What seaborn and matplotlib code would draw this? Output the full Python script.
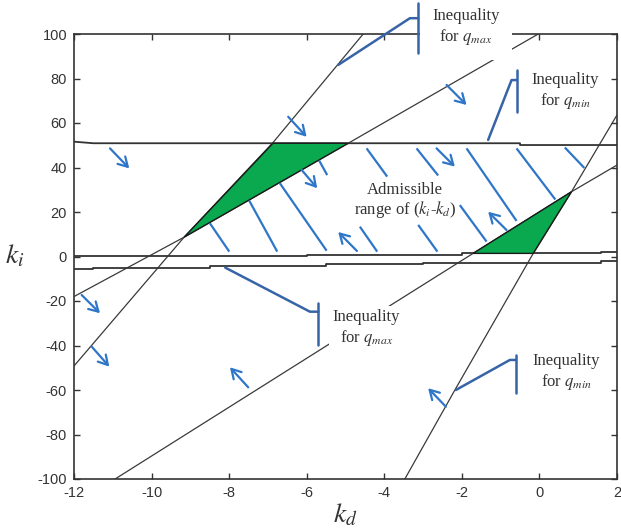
import numpy as np
import matplotlib
matplotlib.use("Agg")
import matplotlib.pyplot as plt
import seaborn as sns

# ---- boundary curves in the (k_d, k_i) plane ----
kd_qmax_steep = [-12.0, -9.16, -6.87, -4.544]
ki_qmax_steep = [-49.2, 8.7, 51.2, 100.0]

kd_upper_slant = [-12.0, -9.16, -4.93, -0.03]
ki_upper_slant = [-18.0, 8.7, 50.9, 100.0]

kd_lower_slant = [-10.94, -5.66, -3.9, -1.71, 0.826, 2.0]
ki_lower_slant = [-100.0, -42.0, -22.6, 1.4, 29.1, 41.1]

kd_qmin_steep = [-3.47, -2.18, -0.16, 0.826, 2.0]
ki_qmin_steep = [-100.0, -60.0, 1.4, 29.1, 63.6]

kd_qmin_level = [-12.0, -11.5, -0.5, -0.5, 2.0]
ki_qmin_level = [51.6, 50.9, 50.9, 50.1, 50.1]

kd_zero_level = [-12.0, -6.0, -6.0, -2.0, -2.0, 1.6, 1.6, 2.0]
ki_zero_level = [0.2, 0.2, 0.8, 0.8, 1.4, 1.4, 2.2, 2.2]

kd_qmax_level = [-12.0, -11.5, -11.5, -8.5, -8.5, -5.5, -5.5, -3.0, -3.0, 1.6, 1.6, 2.0]
ki_qmax_level = [-5.6, -5.6, -5.2, -5.2, -4.1, -4.1, -3.3, -3.3, -2.8, -2.8, -1.9, -1.9]

# ---- filled corner regions ----
kd_left_wedge = [-9.16, -6.87, -4.93]
ki_left_wedge = [8.7, 50.9, 50.9]
kd_right_wedge = [-1.71, -0.16, 0.826]
ki_right_wedge = [1.4, 1.4, 29.1]

# ---- hatch strokes marking the admissible region ----
hatch_kd_from = [-8.495, -7.482, -6.691, -5.678, -4.456, -4.629, -3.168, -3.126, -1.879, -0.590, -2.052, 0.655]
hatch_ki_from = [14.9, 25.1, 32.9, 43.1, 48.6, 13.4, 48.6, 14.2, 48.6, 48.6, 23.1, 49.0]
hatch_kd_to = [-7.997, -6.760, -5.487, -5.472, -3.925, -4.183, -2.611, -2.631, -0.590, 0.410, -1.363, 1.157]
hatch_ki_to = [2.2, 2.2, 2.6, 36.6, 35.9, 2.2, 36.4, 2.2, 16.0, 25.6, 6.7, 39.8]

# ---- direction arrows (tail -> head) ----
arrow_kd_tail = [-11.072, -6.477, -6.131, -2.394, -2.652, -0.848, -4.706, -11.802, -11.544, -7.508, -2.412]
arrow_ki_tail = [48.6, 62.8, 38.9, 77.1, 48.6, 11.9, 2.5, -17.3, -40.5, -58.8, -67.5]
arrow_kd_head = [-10.575, -6.003, -5.729, -1.879, -2.180, -1.322, -5.188, -11.330, -11.090, -7.979, -2.869]
arrow_ki_head = [39.6, 53.8, 30.7, 68.1, 40.4, 20.1, 11.0, -25.5, -49.5, -49.8, -59.2]

x_ticks = [-12, -10, -8, -6, -4, -2, 0, 2]
y_ticks = [-100, -80, -60, -40, -20, 0, 20, 40, 60, 80, 100]

sns.set_theme(style="ticks")
plt.rcParams["font.family"] = ["Liberation Sans", "DejaVu Sans"]
plt.rcParams["mathtext.fontset"] = "stix"
plt.rcParams["axes.unicode_minus"] = False

W, H = 621, 530
fig = plt.figure(figsize=(W / 100, H / 100), dpi=100)
fig.patch.set_facecolor("white")
ax = fig.add_axes([74 / W, 1 - 479 / H, 543 / W, 445 / H])
ax.set_facecolor("white")

curve_kw = dict(color="#3a3a3a", linewidth=0.9, sort=False, estimator=None, ax=ax, legend=False)
sns.lineplot(x=kd_qmax_steep, y=ki_qmax_steep, **curve_kw)
sns.lineplot(x=kd_upper_slant, y=ki_upper_slant, **curve_kw)
sns.lineplot(x=kd_lower_slant, y=ki_lower_slant, **curve_kw)
sns.lineplot(x=kd_qmin_steep, y=ki_qmin_steep, **curve_kw)

level_kw = dict(color="#333333", linewidth=1.3, sort=False, estimator=None, ax=ax, legend=False)
sns.lineplot(x=kd_qmin_level, y=ki_qmin_level, **level_kw)
sns.lineplot(x=kd_zero_level, y=ki_zero_level, **level_kw)
sns.lineplot(x=kd_qmax_level, y=ki_qmax_level, **level_kw)

green = "#0aa84f"
ax.fill(kd_left_wedge, ki_left_wedge, facecolor=green, edgecolor="#1a1a1a", linewidth=1.0, zorder=3)
ax.fill(kd_right_wedge, ki_right_wedge, facecolor=green, edgecolor="#1a1a1a", linewidth=1.0, zorder=3)

blue = "#2f76c8"
for x0, y0, x1, y1 in zip(hatch_kd_from, hatch_ki_from, hatch_kd_to, hatch_ki_to):
    ax.plot([x0, x1], [y0, y1], color=blue, linewidth=1.6, solid_capstyle="butt", zorder=4)

for x0, y0, x1, y1 in zip(arrow_kd_tail, arrow_ki_tail, arrow_kd_head, arrow_ki_head):
    ax.annotate("", xy=(x1, y1), xytext=(x0, y0),
                arrowprops=dict(arrowstyle="->,head_length=0.55,head_width=0.32",
                                color=blue, linewidth=1.6, shrinkA=0, shrinkB=0),
                zorder=4)

# ---- callouts ----
bracket = "#3664a6"
serif = ["Liberation Serif", "DejaVu Serif"]


def callout(path_kd, path_ki, bar_kd, bar_ki, text_kd, text_ki, label, pad=0.25):
    ax.plot(path_kd, path_ki, color=bracket, linewidth=1.8, clip_on=False, zorder=7)
    ax.plot([bar_kd, bar_kd], bar_ki, color=bracket, linewidth=1.8, clip_on=False, zorder=7)
    ax.text(text_kd, text_ki, label, ha="center", va="center", multialignment="center",
            fontsize=12, family=serif, color="#333333", linespacing=1.25,
            bbox=dict(boxstyle=f"square,pad={pad}", facecolor="white", edgecolor="none"),
            zorder=6, clip_on=False)


callout([-5.188, -3.34, -3.126], [86.1, 107.1, 107.1], -3.126, [113.8, 91.3],
        -1.89, 103.0, "Inequality\nfor $q_{max}$", pad=0.75)
callout([-1.322, -0.719, -0.59], [52.4, 79.3, 79.3], -0.59, [83.8, 65.1],
        0.66, 74.1, "Inequality\nfor $q_{min}$")
callout([-8.10, -5.918, -5.70], [-5.0, -24.8, -24.8], -5.70, [-21.0, -39.8],
        -4.456, -32.3, "Inequality\nfor $q_{max}$")
callout([-2.155, -0.763, -0.608], [-60.0, -46.5, -46.5], -0.608, [-44.3, -61.5],
        0.70, -52.1, "Inequality\nfor $q_{min}$")

ax.text(-3.47, 25.0, "Admissible\nrange of ($k_i$-$k_d$)", ha="center", va="center",
        multialignment="center", fontsize=12, family=serif, color="#333333",
        linespacing=1.1, zorder=6)

# ---- axes frame ----
ax.set_xlim(-12, 2)
ax.set_ylim(-100, 100)
ax.set_xticks(x_ticks)
ax.set_yticks(y_ticks)
ax.set_xticklabels([str(t) for t in x_ticks])
ax.set_yticklabels([str(t) for t in y_ticks])
ax.tick_params(direction="in", top=True, right=True, length=4, width=1.0,
               color="#333333", labelcolor="#333333", labelsize=10.5, pad=5)
for s in ax.spines.values():
    s.set_color("#333333")
    s.set_linewidth(1.2)
    s.set_zorder(5)
ax.grid(False)

ax.set_xlabel("$k_d$", fontsize=20, color="#333333")
ax.set_ylabel("$k_i$", fontsize=20, color="#333333", rotation=0)
ax.xaxis.set_label_coords(0.5, (479 - 515) / 445)
ax.xaxis.label.set_va("center")
ax.yaxis.set_label_coords((15 - 74) / 543, 0.5)
ax.yaxis.label.set_va("center")
ax.yaxis.label.set_ha("center")

fig.savefig("out.png", dpi=100, facecolor="white")
